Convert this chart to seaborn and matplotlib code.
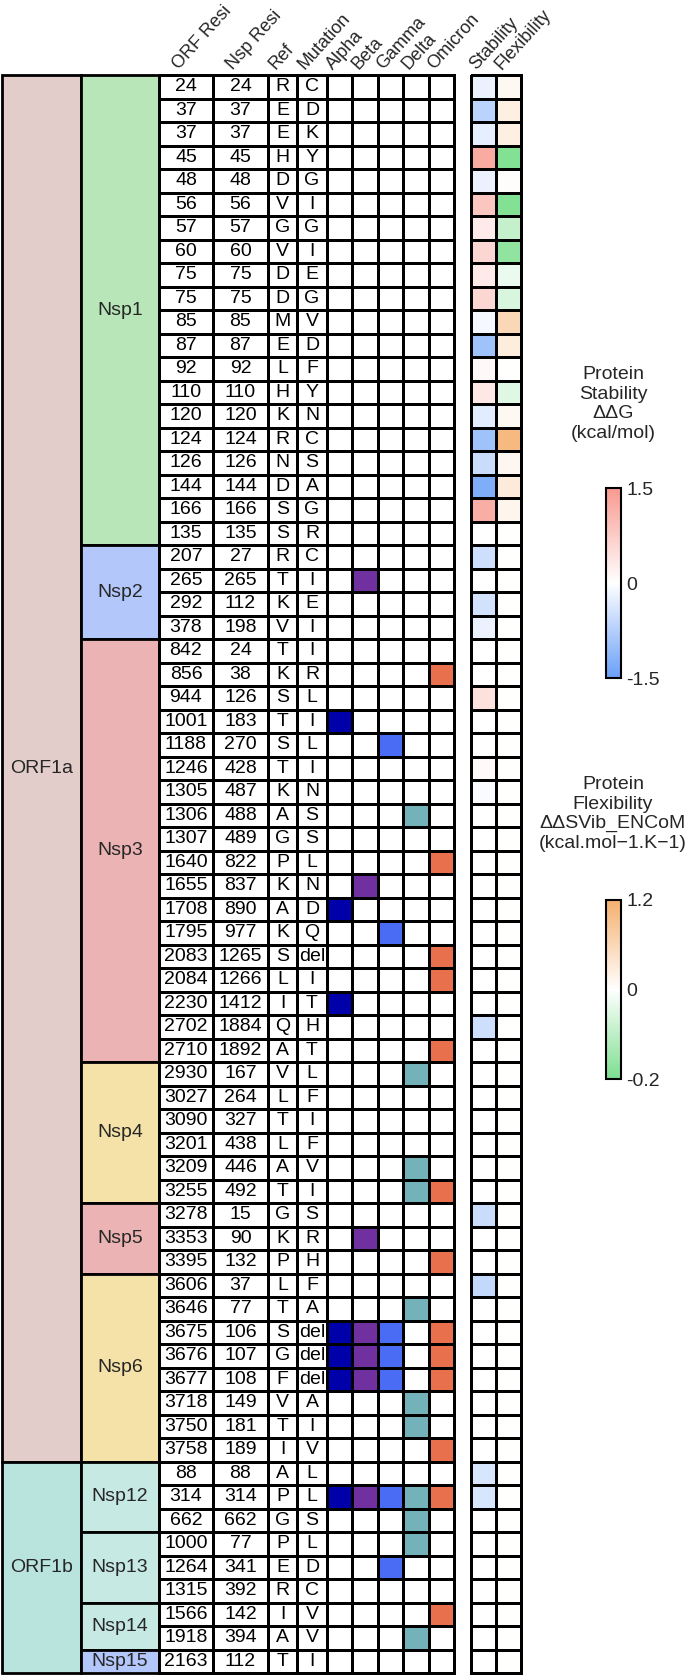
import numpy as np
import pandas as pd
import seaborn as sns
import matplotlib.pyplot as plt
from matplotlib.colors import ListedColormap, LinearSegmentedColormap, TwoSlopeNorm

sns.set_style('white')
plt.rcParams['font.family'] = ['Liberation Sans', 'DejaVu Sans']

# %%
# groups (name, number of rows, colour)
orf_names = ['ORF1a', 'ORF1b']
orf_counts = [59, 9]
orf_colors = ['#e3cdca', '#b9e4de']

nsp_names = ['Nsp1', 'Nsp2', 'Nsp3', 'Nsp4', 'Nsp5', 'Nsp6', 'Nsp12', 'Nsp13', 'Nsp14', 'Nsp15']
nsp_counts = [20, 4, 18, 6, 3, 8, 3, 3, 2, 1]
nsp_colors = ['#b8e6b8', '#b3c7fb', '#ebb3b3', '#f5e2a8', '#ebb3b3', '#f5e2a8',
              '#c6e9e4', '#c6e9e4', '#c6e9e4', '#b3c7fb']

# per-row values
orf_resi = [24, 37, 37, 45, 48, 56, 57, 60, 75, 75, 85, 87, 92, 110, 120, 124, 126, 144, 166, 135,
            207, 265, 292, 378,
            842, 856, 944, 1001, 1188, 1246, 1305, 1306, 1307, 1640, 1655, 1708, 1795, 2083, 2084, 2230, 2702, 2710,
            2930, 3027, 3090, 3201, 3209, 3255,
            3278, 3353, 3395,
            3606, 3646, 3675, 3676, 3677, 3718, 3750, 3758,
            88, 314, 662,
            1000, 1264, 1315,
            1566, 1918,
            2163]
nsp_resi = [24, 37, 37, 45, 48, 56, 57, 60, 75, 75, 85, 87, 92, 110, 120, 124, 126, 144, 166, 135,
            27, 265, 112, 198,
            24, 38, 126, 183, 270, 428, 487, 488, 489, 822, 837, 890, 977, 1265, 1266, 1412, 1884, 1892,
            167, 264, 327, 438, 446, 492,
            15, 90, 132,
            37, 77, 106, 107, 108, 149, 181, 189,
            88, 314, 662,
            77, 341, 392,
            142, 394,
            112]
ref = list('REEHDVGVDDMELHKRNDSS') + list('RTKV') + list('TKSTSTKAGPKAKSLIQA') + \
      list('VLTLAT') + list('GKP') + list('LTSGFVTI') + list('APG') + list('PER') + list('IA') + list('T')
mutation = list('CDKYGIGIEGVDFYNCSAGR') + list('CIEI') + \
           ['I', 'R', 'L', 'I', 'L', 'I', 'N', 'S', 'S', 'L', 'N', 'D', 'Q', 'del', 'I', 'T', 'H', 'T'] + \
           list('LFIFVI') + list('SRH') + ['F', 'A', 'del', 'del', 'del', 'A', 'I', 'V'] + \
           list('LLS') + list('LDC') + list('VV') + list('I')

# variants carrying each mutation: A=Alpha B=Beta G=Gamma D=Delta O=Omicron
hits = [''] * 20 + \
       ['', 'B', '', ''] + \
       ['', 'O', '', 'A', 'G', '', '', 'D', '', 'O', 'B', 'A', 'G', 'O', 'O', 'A', '', 'O'] + \
       ['D', '', '', '', 'D', 'DO'] + \
       ['', 'B', 'O'] + \
       ['', 'D', 'ABGO', 'ABGO', 'ABGO', 'D', 'D', 'O'] + \
       ['', 'ABGDO', 'D'] + \
       ['D', 'G', ''] + \
       ['O', 'D'] + \
       ['']

stability = [-0.2, -0.7, -0.25, 1.25, -0.2, 0.85, 0.3, 0.6, 0.3, 0.6,
             -0.1, -0.95, 0.1, 0.35, -0.3, -0.95, -0.55, -1.3, 1.2, 0,
             -0.5, 0, -0.45, -0.2,
             0, 0, 0.45, 0, 0, 0.08, -0.07, 0, 0, 0, 0, 0, 0, 0, 0, 0, -0.5, 0,
             0, 0, 0, 0, 0, 0,
             -0.55, 0, 0,
             -0.6, 0, 0, 0, 0, 0, 0, 0,
             -0.4, -0.4, 0,
             0, 0, 0,
             0, 0,
             0]
flexibility = [0.1, 0.25, 0.25, -0.19, 0.02, -0.19, -0.09, -0.17, -0.03, -0.06,
               0.6, 0.28, 0, -0.05, 0.1, 1.05, 0.12, 0.3, 0.15, 0] + [0] * 48

variant_names = ['Alpha', 'Beta', 'Gamma', 'Delta', 'Omicron']
variant_codes = ['A', 'B', 'G', 'D', 'O']
variant_colors = ['#0000aa', '#7030a0', '#4a6cf5', '#72b2b8', '#e8704d']

headers = ['ORF Resi', 'Nsp Resi', 'Ref', 'Mutation'] + variant_names + ['Stability', 'Flexibility']

# %%
W, H = 685, 1676
TOP, BOT = 75, 1673
LW = 2.0
FS = 14
n = len(orf_resi)

fig = plt.figure(figsize=(W / 100, H / 100), dpi=100)


def add_ax(x0, x1, y0=TOP, y1=BOT):
    return fig.add_axes([x0 / W, 1 - y1 / H, (x1 - x0) / W, (y1 - y0) / H])


def group_column(x0, x1, names, counts, colors):
    ax = add_ax(x0, x1)
    starts = np.concatenate([[0], np.cumsum(counts)[:-1]])
    ax.barh(starts, 1, height=counts, left=0, align='edge', color=colors,
            edgecolor='black', linewidth=LW, clip_on=False)
    for name, s, c in zip(names, starts, counts):
        ax.text(0.5, s + c / 2, name, ha='center', va='center', fontsize=FS)
    ax.set_xlim(0, 1)
    ax.set_ylim(n, 0)
    ax.set_axis_off()
    return ax


def grid_heatmap(x0, x1, values, cmap, annot=None, **kw):
    ax = add_ax(x0, x1)
    sns.heatmap(values, ax=ax, cmap=cmap, annot=annot, fmt='',
                linewidths=LW, linecolor='black', xticklabels=False, yticklabels=False,
                annot_kws=dict(fontsize=FS, color='black'), **kw)
    ax.collections[0].set_clip_on(False)
    return ax


group_column(1.5, 81, orf_names, orf_counts, orf_colors)
group_column(81, 159, nsp_names, nsp_counts, nsp_colors)

white = ListedColormap(['white'])
zeros = np.zeros((n, 1))
text_cols = [orf_resi, nsp_resi, ref, mutation]
text_edges = [159, 213, 268, 297, 327]
for i, col in enumerate(text_cols):
    labels = np.array([str(v) for v in col]).reshape(-1, 1)
    grid_heatmap(text_edges[i], text_edges[i + 1], zeros, white, annot=labels, cbar=False)

# variants
var_df = pd.DataFrame({name: [(k + 1) if code in h else 0 for h in hits]
                       for k, (name, code) in enumerate(zip(variant_names, variant_codes))})
var_cmap = ListedColormap(['white'] + variant_colors)
grid_heatmap(327, 454, var_df, var_cmap, cbar=False, vmin=-0.5, vmax=5.5)

# stability / flexibility
stab_cmap = LinearSegmentedColormap.from_list('stab', ['#6aa0f8', '#ffffff', '#f89a8f'])
flex_cmap = LinearSegmentedColormap.from_list('flex', ['#7ddf8f', '#ffffff', '#f5b06e'])

cax_s = add_ax(606, 621, 488, 678)
cax_f = add_ax(606, 621, 900, 1079)

ax_s = grid_heatmap(471, 496, np.array(stability).reshape(-1, 1), stab_cmap,
                    vmin=-1.5, vmax=1.5, cbar_ax=cax_s, cbar_kws=dict(ticks=[-1.5, 0, 1.5]))
ax_f = grid_heatmap(496, 521, np.array(flexibility).reshape(-1, 1), flex_cmap,
                    norm=TwoSlopeNorm(vcenter=0, vmin=-0.2, vmax=1.2),
                    cbar_ax=cax_f, cbar_kws=dict(ticks=[-0.2, 0, 1.2]))

for ax, cax, labs in [(ax_s, cax_s, ['-1.5', '0', '1.5']), (ax_f, cax_f, ['-0.2', '0', '1.2'])]:
    cb = ax.collections[0].colorbar
    cb.outline.set_linewidth(1.5)
    cb.outline.set_edgecolor('black')
    cax.set_yticklabels(labs)
    cax.tick_params(length=0, labelsize=FS, pad=4)

fig.text(613 / W, 1 - 366 / H, 'Protein\nStability\nΔΔG\n(kcal/mol)',
         ha='center', va='top', fontsize=FS)
fig.text(613 / W, 1 - 776 / H, 'Protein\nFlexibility\nΔΔSVib_ENCoM\n(kcal.mol−1.K−1)',
         ha='center', va='top', fontsize=FS)

# rotated column headers
col_edges = [159, 213, 268, 297, 327, 352.4, 377.8, 403.2, 428.6, 454, 471, 496, 521]
centers = [(a + b) / 2 for a, b in zip(col_edges[:-1], col_edges[1:])]
centers = centers[:9] + centers[10:]
for label, cx in zip(headers, centers):
    fig.text((cx - 7) / W, 1 - 70 / H, label, rotation=48, rotation_mode='anchor',
             ha='left', va='baseline', fontsize=13)

fig.savefig('out.png', dpi=100)
